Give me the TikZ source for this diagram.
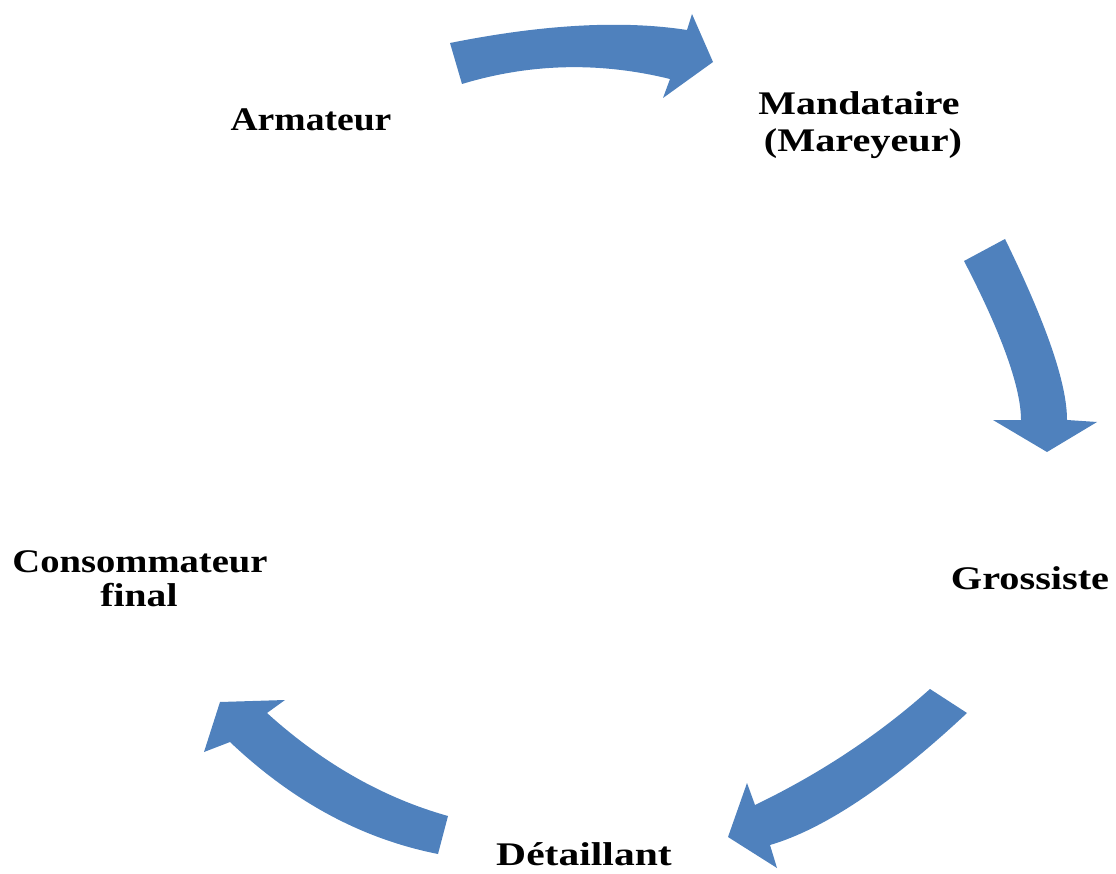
\documentclass[tikz,border=0pt]{standalone}
\usepackage{fontspec}
\setmainfont{Liberation Serif}
\definecolor{arrowblue}{HTML}{4F81BD}
\newcommand{\wtext}[2]{\scalebox{#1}[1]{#2}}
\begin{document}
\begin{tikzpicture}[x=1pt,y=-1pt,
  lbl/.style={font=\fontsize{33}{38}\selectfont\bfseries, inner sep=0pt, anchor=base},
  blk/.style={fill=arrowblue, draw=none}]
\useasboundingbox (0,0) rectangle (1116,874);
% arrows
\fill[blk] (450,43) .. controls (543.3,24.3) and (622.3,20) .. (687,30) -- (692,14) -- (713,62) -- (663,98) -- (670,79) .. controls (600.7,62) and (531.3,63) .. (462,84) -- cycle;
\fill[blk] (964,261) .. controls (1003,336) and (1021,389) .. (1021,420) -- (993,420) -- (1047,452) -- (1097,422) -- (1067,420) .. controls (1067,383) and (1046,323) .. (1005,239) -- cycle;
\fill[blk] (930,689) .. controls (877.7,735.7) and (819.3,774) .. (755,805) -- (747,783) -- (728,837) -- (777,868) -- (770,845) .. controls (824.3,829) and (890,785) .. (967,713) -- cycle;
\fill[blk] (448,816) .. controls (382.7,797.7) and (322.3,763) .. (267,713) -- (285,700) -- (220,702) -- (204,752) -- (230,742) .. controls (293.3,802) and (362.3,839) .. (438,854) -- cycle;
% labels
\node[lbl] (arm) at (311,131) {\wtext{1.14}{Armateur}};
\node[lbl] (man1) at (859,115) {\wtext{1.21}{Mandataire}};
\node[lbl] (man2) at (863,152) {\wtext{1.22}{(Mareyeur)}};
\node[lbl] (gro) at (1030,589) {\wtext{1.22}{Grossiste}};
\node[lbl] (det) at (584,865) {\wtext{1.26}{Détaillant}};
\node[lbl] (con1) at (140,572) {\wtext{1.17}{Consommateur}};
\node[lbl] (con2) at (139,606) {\wtext{1.2}{final}};
\end{tikzpicture}
\end{document}
